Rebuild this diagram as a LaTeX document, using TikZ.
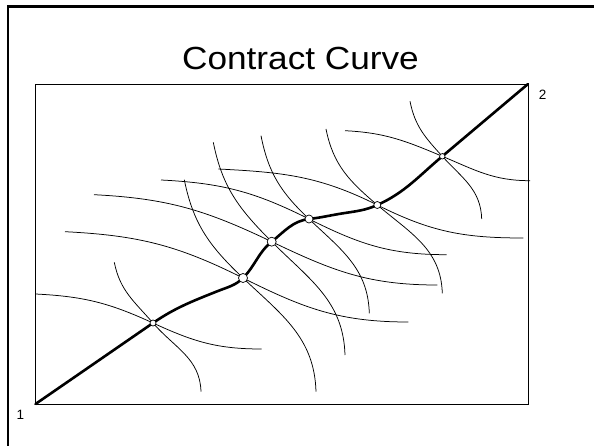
\documentclass[tikz,border=0pt]{standalone}
\usepackage{fontspec}
\setmainfont{Liberation Sans}
\begin{document}
\begin{tikzpicture}[x=1pt,y=-1pt,
  frame/.style={line width=2.4pt},
  boxline/.style={line width=0.9pt},
  indiff/.style={line width=0.75pt},
  contract/.style={line width=2.6pt, line join=round, line cap=round},
  tangency/.style={draw, circle, inner sep=0pt, line width=0.7pt, fill=white},
  cornerlbl/.style={font=\fontsize{13.5}{16}\selectfont, inner sep=0pt}]
\useasboundingbox (0,0) rectangle (594,446);
\fill[white] (0,0) rectangle (594,446);
% slide frame
\draw[frame] (7.8,446) -- (7.8,6.7) -- (594,6.7);
% title
\node[anchor=base, inner sep=0pt, xscale=1.1, font=\fontsize{32}{38}\selectfont] (title) at (300.5,70) {Contract Curve};
% Edgeworth box
\coordinate (O1) at (35.5,404);
\coordinate (O2) at (528,84);
\draw[boxline] (O1) rectangle (O2);
\node[cornerlbl] (l1) at (20.5,414.5) {1};
\node[cornerlbl] (l2) at (542.5,94.5) {2};
% tangency points
\coordinate (P1) at (153,323);
\coordinate (P2) at (243,278);
\coordinate (P3) at (271.7,241.7);
\coordinate (P4) at (309,219);
\coordinate (P5) at (377.3,205);
\coordinate (P6) at (442.3,156.3);
% flat indifference curves
\draw[indiff] (35.5,294) .. controls +(48.3,2.4) and +(-44,-20.2) .. (P1) .. controls +(40.6,18.7) and +(-44.7,0) .. (261.7,349);
\draw[indiff] (65,231.7) .. controls +(73.5,3.7) and +(-65.8,-32.9) .. (P2) .. controls +(61.2,30.6) and +(-68.4,0) .. (408.3,322);
\draw[indiff] (94,194.7) .. controls +(73.4,3.7) and +(-66.3,-31.8) .. (P3) .. controls +(61.8,29.6) and +(-68.5,0) .. (437.3,285);
\draw[indiff] (161,180) .. controls +(61.1,3.1) and +(-54.7,-27.4) .. (P4) .. controls +(50.9,25.4) and +(-56.9,0) .. (446.7,254.7);
\draw[indiff] (218.3,169) .. controls +(65.1,3.3) and +(-58.3,-29.1) .. (P5) .. controls +(53.5,26.8) and +(-59.9,0) .. (523.3,238);
\draw[indiff] (345,130.7) .. controls +(40.1,2) and +(-37.1,-15.6) .. (P6) .. controls +(33.6,14.1) and +(-36.4,0) .. (530,180.7);
% steep indifference curves
\draw[indiff] (114.3,262.3) .. controls +(5.6,28.3) and +(-18.9,-21.7) .. (P1) .. controls +(22,25.3) and +(-1,-33.5) .. (201,391.7);
\draw[indiff] (184.3,179.7) .. controls +(9,44.9) and +(-33.2,-31.6) .. (P2) .. controls +(39.2,37.2) and +(-1.6,-54) .. (316,391.7);
\draw[indiff] (213.3,142.3) .. controls +(9,45.2) and +(-32.6,-32.6) .. (P3) .. controls +(38.2,38.2) and +(-1.6,-54) .. (345,355);
\draw[indiff] (261,135.7) .. controls +(7.5,37.8) and +(-27.9,-26.5) .. (P4) .. controls +(32.5,30.9) and +(-1.3,-44.8) .. (369.3,313.3);
\draw[indiff] (326,129) .. controls +(7.2,36) and +(-28,-23.8) .. (P5) .. controls +(33.5,28.4) and +(-1.3,-43.9) .. (442.3,293.3);
\draw[indiff] (410,101.3) .. controls +(5,25) and +(-17.2,-18.9) .. (P6) .. controls +(19.9,21.9) and +(-0.9,-29.6) .. (481.7,219);
% contract curve
\coordinate (Q) at (218,291);
\coordinate (S) at (345,213);
\draw[contract] (O1) -- (P1)
  .. controls +(22.2,-15.3) and +(-25.1,10) .. (Q)
  .. controls +(9.8,-3.9) and +(-7.5,7.5) .. (P2)
  .. controls +(12.3,-12.3) and +(-13.6,10.9) .. (P3)
  .. controls +(12.8,-10.3) and +(-16.3,2) .. (P4)
  .. controls +(13.6,-1.6) and +(-13.5,2) .. (S)
  .. controls +(12.4,-1.9) and +(-11.4,5.1) .. (P5)
  .. controls +(27.8,-12.5) and +(-23.4,19.6) .. (P6)
  -- (O2);
% tangency markers
\node[tangency, minimum size=6pt] (m1) at (P1) {};
\node[tangency, minimum size=9pt] (m2) at (P2) {};
\node[tangency, minimum size=9pt] (m3) at (P3) {};
\node[tangency, minimum size=8pt] (m4) at (P4) {};
\node[tangency, minimum size=7pt] (m5) at (P5) {};
\node[tangency, minimum size=5.5pt] (m6) at (P6) {};
\end{tikzpicture}
\end{document}
